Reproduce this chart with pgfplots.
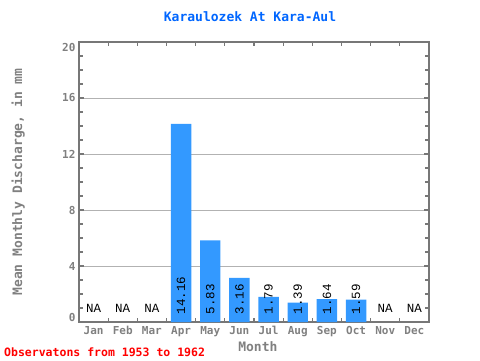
\documentclass[border=0pt]{standalone}
\usepackage{pgfplots}
\pgfplotsset{compat=1.18}
\usepackage{fontspec}
\setmainfont{DejaVu Sans Mono}
\setmonofont{DejaVu Sans Mono}
\newfontfamily\lmono{Liberation Mono}
\definecolor{barblue}{HTML}{3399FF}
\definecolor{titleblue}{HTML}{0066FF}
\definecolor{axgray}{HTML}{777777}
\definecolor{txtgray}{HTML}{808080}
\begin{document}
\begin{tikzpicture}
\path[use as bounding box] (0pt,0pt) rectangle (480pt,360pt);
\node[text=titleblue, font=\fontsize{13}{15}\selectfont\bfseries] at (250pt,343pt) {Karaulozek At Kara-Aul};
\node[text=red, font=\fontsize{11.5}{13}\selectfont\bfseries, anchor=west, inner sep=0pt] at (4pt,8pt) {Observatons from 1953 to 1962};
\begin{axis}[
  at={(79pt,38pt)}, anchor=south west,
  scale only axis, width=350pt, height=280pt,
  xmin=-0.5, xmax=11.5, ymin=0, ymax=20,
  xtick={0,...,11},
  xticklabels={Jan,Feb,Mar,Apr,May,Jun,Jul,Aug,Sep,Oct,Nov,Dec},
  major x tick style={draw=none},
  minor xtick={0.5,1.5,...,10.5},
  ytick={0,4,...,20},
  yticklabels={{\smash{\raisebox{5pt}{0}}\vphantom{0}},4,8,12,16,{\smash{\raisebox{-5pt}{20}}\vphantom{20}}},
  minor ytick={1,2,3,5,6,7,9,10,11,13,14,15,17,18,19},
  tick align=inside,
  major tick length=5pt, minor tick length=4pt,
  tick style={axgray, line width=1.2pt},
  axis line style={axgray, line width=1.6pt},
  ymajorgrids, grid style={gray!60, line width=0.6pt},
  /pgf/number format/assume math mode=true,
  ticklabel style={text=txtgray, font=\fontsize{11}{12}\selectfont\bfseries},
  xticklabel style={yshift=-1pt},
  xlabel={Month}, xlabel style={at={(axis description cs:0.511,-0.089)}, anchor=center, text=txtgray, font=\fontsize{13}{14}\selectfont\bfseries},
  ylabel={Mean Monthly Discharge, in mm}, ylabel style={at={(axis description cs:-0.174,0.5)}, anchor=center, rotate=0, text=txtgray, font=\fontsize{13}{14}\selectfont\bfseries},
]
\addplot[ybar, bar width=0.7, fill=barblue, draw=none] coordinates {
  (3,14.16) (4,5.83) (5,3.16) (6,1.79) (7,1.39) (8,1.64) (9,1.59)
};
\addplot[draw=none, mark=none, nodes near coords, point meta=explicit symbolic,
  nodes near coords style={rotate=90, anchor=west, text=black, font=\fontsize{12.5}{13}\selectfont\lmono, inner sep=0pt}]
  table[meta=label] {
x y label
3 0.55 14.16
4 0.55 5.83
5 0.55 3.16
6 0.55 1.79
7 0.55 1.39
8 0.55 1.64
9 0.55 1.59
};
\addplot[draw=none, mark=none, nodes near coords, point meta=explicit symbolic,
  nodes near coords style={anchor=center, text=black, font=\fontsize{12.5}{13}\selectfont\lmono}]
  table[meta=label] {
x y label
0 1 NA
1 1 NA
2 1 NA
10 1 NA
11 1 NA
};
\end{axis}
\end{tikzpicture}
\end{document}
